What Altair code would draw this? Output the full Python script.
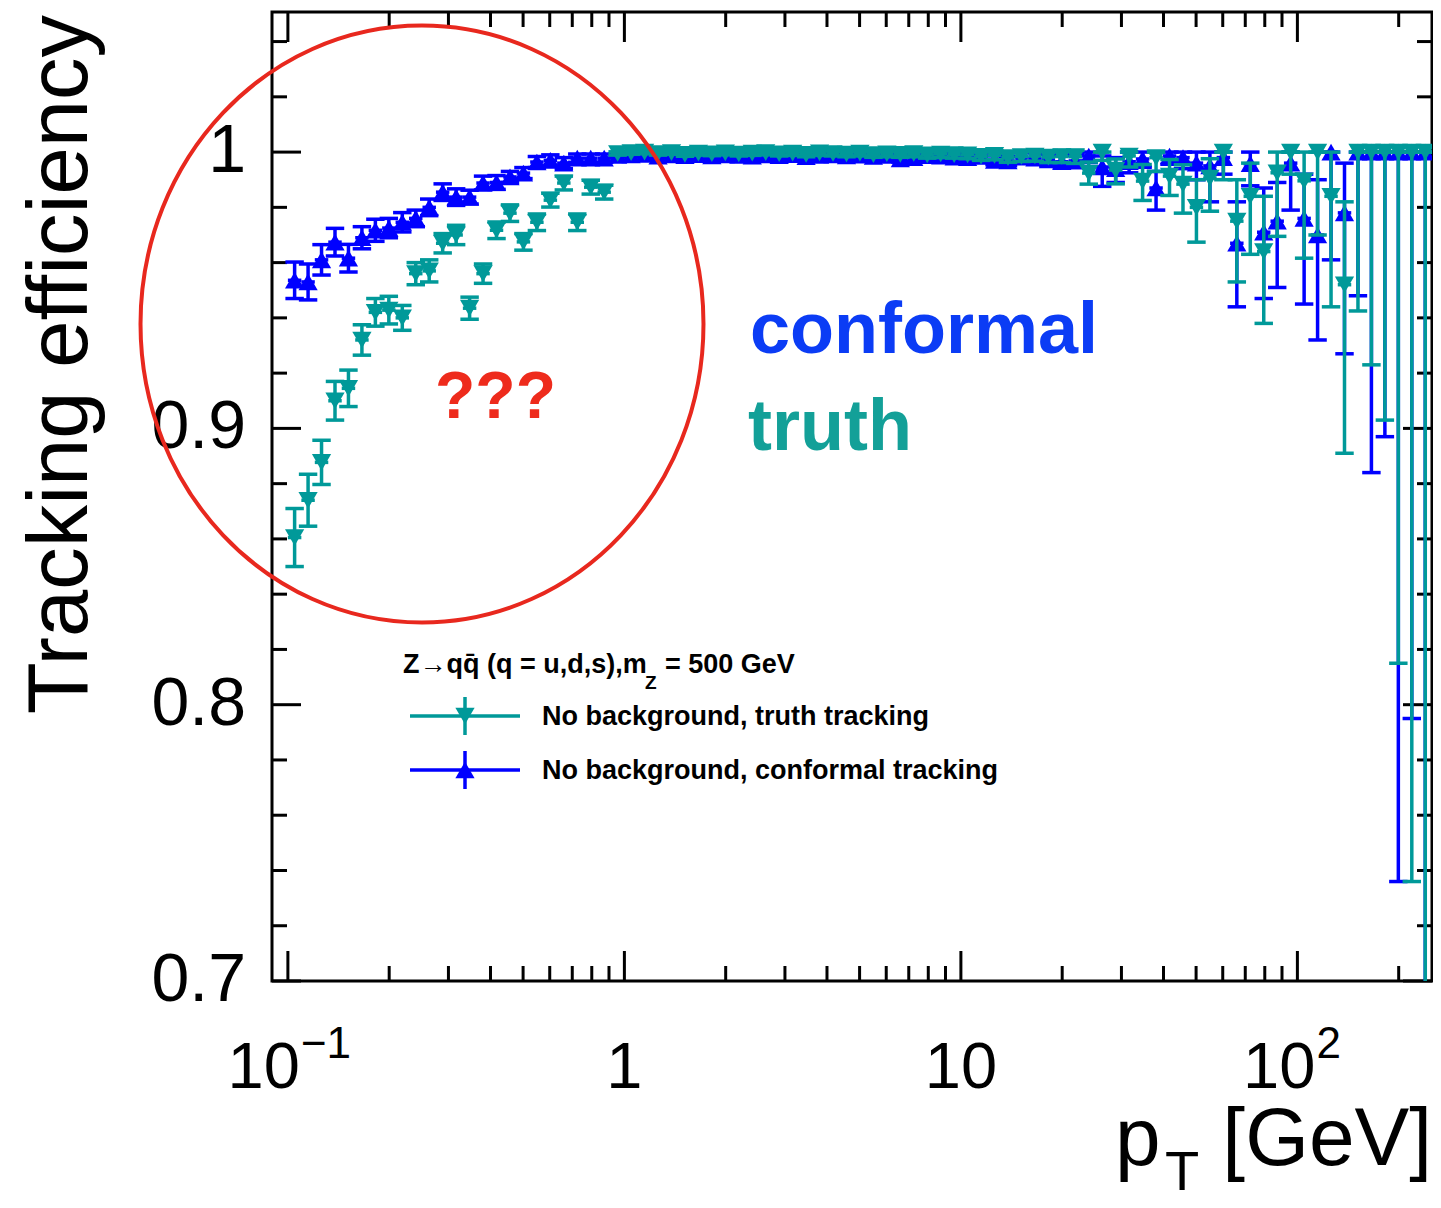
import altair as alt
import numpy as np
import pandas as pd

# ---------------- histogram binning (log bins, 25 per decade from 0.1 GeV) ----------
N_BINS = 85
BINS_PER_DECADE = 25
PT_MIN = 0.1

# ---------------- efficiencies ----------------
truth_eff = [
    0.8605, 0.874, 0.8877, 0.910, 0.9145, 0.932, 0.942, 0.9428, 0.940, 0.956, 0.957, 0.967,
    0.970, 0.9435, 0.956, 0.9717, 0.9779, 0.9675, 0.9746, 0.9826, 0.9888, 0.9746, 0.9873, 0.9855,
    0.9995, 0.9998, 1.0, 0.9995, 0.9998, 0.9992, 0.9996, 0.9994, 0.9997, 0.9993, 0.9996, 0.9998,
    0.9994, 0.9996, 0.9992, 0.9997, 0.9995, 0.9993, 0.9996, 0.9991, 0.9994, 0.9992, 0.9995, 0.9990,
    0.9993, 0.9991,
    0.9990, 0.9985, 0.9988, 0.9980, 0.9984, 0.9986, 0.9982, 0.9984, 0.9983,
    0.9924, 1.0, 0.9935, 0.9986, 0.9895, 0.998, 0.9913, 0.9884, 0.980, 0.9906, 1.0, 0.975,
    0.984, 0.964, 0.9925, 1.0, 0.9896, 1.0, 0.984, 0.952, 1.0, 1.0, 1.0, 1.0, 1.0, 1.0,
]
truth_err_lo = [
    0.0105, 0.0094, 0.008, 0.007, 0.0066, 0.0055, 0.005, 0.005, 0.0045, 0.004, 0.004, 0.0035,
    0.0035, 0.004, 0.0035, 0.003, 0.003, 0.003, 0.003, 0.0025, 0.0025, 0.003, 0.0025, 0.0025,
    0.0006, 0.0006, 0.0006, 0.0006, 0.0006, 0.0007, 0.0007, 0.0007, 0.0007, 0.0007, 0.0008, 0.0008,
    0.0008, 0.0008, 0.0009, 0.0009, 0.0009, 0.001, 0.001, 0.001, 0.0011, 0.0011, 0.0012, 0.0012,
    0.0013, 0.0013, 0.0014, 0.0015, 0.0016, 0.0017, 0.0018, 0.0019, 0.002, 0.0022, 0.0024,
    0.004, 0.003, 0.005, 0.004, 0.007, 0.005, 0.007, 0.0105, 0.0126, 0.012, 0.010, 0.022,
    0.021, 0.026, 0.023, 0.008, 0.028, 0.030, 0.040, 0.061, 0.0575, 0.077, 0.097, 0.185, 0.264, 0.45,
]
truth_err_hi_tail = [
    0.004, 0.0, 0.004, 0.0014, 0.006, 0.002, 0.006, 0.007, 0.010, 0.007, 0.0, 0.015,
    0.012, 0.020, 0.0075, 0.0, 0.0104, 0.0, 0.016, 0.030, 0.0, 0.0, 0.0, 0.0, 0.0, 0.0,
]
conf_eff = [
    0.9536, 0.953, 0.961, 0.9674, 0.9616, 0.969, 0.9717, 0.9725, 0.9746, 0.976, 0.980, 0.9855,
    0.9837, 0.9837, 0.9888, 0.989, 0.991, 0.9924, 0.9964, 0.997, 0.996, 0.9978, 0.9978, 0.9978,
    0.9988, 0.9990, 0.9992, 0.9985, 0.9990, 0.9987, 0.9991, 0.9986, 0.9990, 0.9988, 0.9985, 0.9990,
    0.9987, 0.9991, 0.9983, 0.9988, 0.9990, 0.9986, 0.9989, 0.9984, 0.9988, 0.9975, 0.9980, 0.9987,
    0.9985, 0.9982,
    0.9980, 0.9984, 0.9970, 0.9968, 0.9982, 0.9978, 0.9972, 0.9965, 0.9968,
    0.9986, 0.9946, 0.9940, 0.9965, 0.9975, 0.987, 0.9986, 0.998, 0.996, 0.995, 0.998, 0.967,
    0.9958, 0.971, 0.975, 0.996, 0.976, 0.970, 1.0, 0.978, 1.0, 1.0, 1.0, 1.0, 1.0, 1.0,
]
conf_err_lo = [
    0.0066, 0.0065, 0.0055, 0.005, 0.005, 0.004, 0.004, 0.0035, 0.0035, 0.003, 0.003, 0.003,
    0.003, 0.0025, 0.0025, 0.0025, 0.002, 0.002, 0.002, 0.002, 0.002, 0.0015, 0.0015, 0.0015,
    0.0006, 0.0006, 0.0006, 0.0006, 0.0006, 0.0007, 0.0007, 0.0007, 0.0007, 0.0007, 0.0008, 0.0008,
    0.0008, 0.0008, 0.0009, 0.0009, 0.0009, 0.001, 0.001, 0.001, 0.0011, 0.0011, 0.0012, 0.0012,
    0.0013, 0.0013, 0.0014, 0.0015, 0.0016, 0.0017, 0.0018, 0.0019, 0.002, 0.0022, 0.0024,
    0.002, 0.007, 0.005, 0.004, 0.003, 0.008, 0.003, 0.004, 0.006, 0.013, 0.006, 0.023,
    0.008, 0.024, 0.024, 0.017, 0.031, 0.038, 0.039, 0.051, 0.052, 0.116, 0.103, 0.264, 0.205, 0.45,
]
conf_err_hi_tail = [
    0.0014, 0.004, 0.004, 0.0035, 0.0025, 0.006, 0.0014, 0.002, 0.004, 0.005, 0.002, 0.015,
    0.0042, 0.016, 0.014, 0.004, 0.016, 0.020, 0.0, 0.018, 0.0, 0.0, 0.0, 0.0, 0.0, 0.0,
]
truth_err_hi = truth_err_lo[:59] + truth_err_hi_tail
conf_err_hi = conf_err_lo[:59] + conf_err_hi_tail

# axis ticks and labels
x_major = [0.1, 1, 10, 100]
x_minor = [0.2, 0.3, 0.4, 0.5, 0.6, 0.7, 0.8, 0.9, 2, 3, 4, 5, 6, 7, 8, 9,
           20, 30, 40, 50, 60, 70, 80, 90, 200]
x_label_base = ["10", "1", "10", "10"]
x_label_exp = ["\u22121", "", "", "2"]
y_major = [0.7, 0.8, 0.9, 1.0]
y_label_text = ["0.7", "0.8", "0.9", "1"]
y_minor = [0.72, 0.74, 0.76, 0.78, 0.82, 0.84, 0.86, 0.88, 0.92, 0.94, 0.96, 0.98, 1.02, 1.04]

TEAL = "#009999"
BLUE = "#0000ff"
FONT = "Liberation Sans"
W, H = 1160, 969

edges = PT_MIN * 10 ** (np.arange(N_BINS + 1) / BINS_PER_DECADE)
lo_edge, hi_edge = edges[:-1], edges[1:]
centers = np.sqrt(lo_edge * hi_edge)


def frame(eff, lo, hi):
    eff = np.array(eff)
    return pd.DataFrame({
        "pt": centers, "x1": lo_edge, "x2": hi_edge, "eff": eff,
        "ylo": eff - np.array(lo), "yhi": eff + np.array(hi),
    })


truth_df = frame(truth_eff, truth_err_lo, truth_err_hi)
conf_df = frame(conf_eff, conf_err_lo, conf_err_hi)

xs = alt.Scale(type="log", domain=[0.0897, 251.2], nice=False)
ys = alt.Scale(domain=[0.7, 1.0507], nice=False, zero=False)

CAP = "M -1 0 L 1 0"
MSIZE = 370
CSIZE = 340
LW = 3.5


def X(f):
    return alt.X(f, scale=xs, axis=None)


def Y(f):
    return alt.Y(f, scale=ys, axis=None)


def series_layers(df, color, shape):
    base = alt.Chart(df)
    xerr = base.mark_rule(color=color, strokeWidth=LW, clip=True).encode(
        x=X("x1:Q"), x2="x2:Q", y=Y("eff:Q"))
    yerr = base.mark_rule(color=color, strokeWidth=LW, clip=True).encode(
        x=X("pt:Q"), y=Y("ylo:Q"), y2="yhi:Q")
    cap_lo = base.mark_point(shape=CAP, size=CSIZE, filled=False, color=color, strokeWidth=LW,
                             opacity=1, clip=True).encode(x=X("pt:Q"), y=Y("ylo:Q"))
    cap_hi = base.mark_point(shape=CAP, size=CSIZE, filled=False, color=color, strokeWidth=LW,
                             opacity=1, clip=True).encode(x=X("pt:Q"), y=Y("yhi:Q"))
    marker = base.mark_point(shape=shape, size=MSIZE, filled=True, color=color, opacity=1,
                             clip=True).encode(x=X("pt:Q"), y=Y("eff:Q"))
    return [xerr, yerr, cap_lo, cap_hi, marker]


# ---------------- inner ticks on all four sides ----------------
ymaj_df = pd.DataFrame({"v": y_major})
ymin_df = pd.DataFrame({"v": y_minor})
xmaj_df = pd.DataFrame({"v": x_major})
xmin_df = pd.DataFrame({"v": x_minor})


def rule(df, **enc):
    return alt.Chart(df).mark_rule(color="black", strokeWidth=3).encode(**enc)


tick_layers = [
    rule(ymaj_df, y=Y("v:Q"), x=alt.value(0), x2=alt.value(29)),
    rule(ymin_df, y=Y("v:Q"), x=alt.value(0), x2=alt.value(15)),
    rule(ymaj_df, y=Y("v:Q"), x=alt.value(W - 29), x2=alt.value(W)),
    rule(ymin_df, y=Y("v:Q"), x=alt.value(W - 15), x2=alt.value(W)),
    rule(xmaj_df, x=X("v:Q"), y=alt.value(H - 30), y2=alt.value(H)),
    rule(xmin_df, x=X("v:Q"), y=alt.value(H - 15), y2=alt.value(H)),
    rule(xmaj_df, x=X("v:Q"), y=alt.value(0), y2=alt.value(30)),
    rule(xmin_df, x=X("v:Q"), y=alt.value(0), y2=alt.value(15)),
]

# ---------------- tick labels as text ----------------
label_layers = [
    alt.Chart(pd.DataFrame({"v": y_major, "t": y_label_text})).mark_text(
        font=FONT, fontSize=68, align="right", baseline="middle", color="black").encode(
        y=Y("v:Q"), x=alt.value(-26), text="t:N"),
]
x_lbl_df = pd.DataFrame({"v": x_major, "b": x_label_base, "e": x_label_exp})
LBL_Y = H + 107
for i, v in enumerate(x_major):
    row = x_lbl_df.iloc[[i]]
    if x_label_exp[i]:
        off = 12 if v < 1 else 18
        label_layers.append(alt.Chart(row).mark_text(
            font=FONT, fontSize=65, align="right", baseline="alphabetic", color="black",
            dx=off).encode(x=X("v:Q"), y=alt.value(LBL_Y), text="b:N"))
        label_layers.append(alt.Chart(row).mark_text(
            font=FONT, fontSize=44, align="left", baseline="alphabetic", color="black",
            dx=off + 1).encode(x=X("v:Q"), y=alt.value(LBL_Y - 30), text="e:N"))
    else:
        label_layers.append(alt.Chart(row).mark_text(
            font=FONT, fontSize=65, align="center", baseline="alphabetic", color="black").encode(
            x=X("v:Q"), y=alt.value(LBL_Y), text="b:N"))


def text(label, x, y, size, color="black", weight="normal", align="left",
         baseline="alphabetic", angle=0):
    kw = dict(font=FONT, fontSize=size, color=color, fontWeight=weight, align=align,
              baseline=baseline)
    if angle:
        kw["angle"] = angle
    return alt.Chart(pd.DataFrame({"t": [label]})).mark_text(**kw).encode(
        text="t:N", x=alt.value(x), y=alt.value(y))


one = pd.DataFrame({"a": [0]})

legend_layers = [
    text("Z\u2192qq\u0304 (q = u,d,s),m", 131, 653, 27, weight="bold", baseline="middle"),
    text("Z", 373, 671, 19, weight="bold", baseline="middle"),
    text("= 500 GeV", 393, 653, 27, weight="bold", baseline="middle"),
    # truth entry
    alt.Chart(one).mark_rule(color=TEAL, strokeWidth=LW).encode(
        x=alt.value(138), x2=alt.value(248), y=alt.value(704)),
    alt.Chart(one).mark_rule(color=TEAL, strokeWidth=LW).encode(
        x=alt.value(193), y=alt.value(685), y2=alt.value(723)),
    alt.Chart(one).mark_point(shape="triangle-down", size=MSIZE, filled=True, color=TEAL,
                              opacity=1).encode(x=alt.value(193), y=alt.value(704)),
    text("No background, truth tracking", 270, 705, 27, weight="bold", baseline="middle"),
    # conformal entry
    alt.Chart(one).mark_rule(color=BLUE, strokeWidth=LW).encode(
        x=alt.value(138), x2=alt.value(248), y=alt.value(758)),
    alt.Chart(one).mark_rule(color=BLUE, strokeWidth=LW).encode(
        x=alt.value(193), y=alt.value(739), y2=alt.value(777)),
    alt.Chart(one).mark_point(shape="triangle-up", size=MSIZE, filled=True, color=BLUE,
                              opacity=1).encode(x=alt.value(193), y=alt.value(758)),
    text("No background, conformal tracking", 270, 759, 27, weight="bold", baseline="middle"),
]

annot_layers = [
    text("conformal", 478, 341, 72, color="#0b3cf5", weight="bold"),
    text("truth", 476, 438, 72, color="#13a098", weight="bold"),
    text("???", 163, 406, 66, color="#ee2b1c", weight="bold"),
    # axis titles
    text("Tracking efficiency", -185, 3, 85, align="right", angle=270),
    text("p", 843, 1153, 82),
    text("T", 893, 1178, 56),
    text("[GeV]", 1160, 1153, 82, align="right"),
    # red ellipse
    alt.Chart(one).mark_point(
        shape="M -0.943 0 A 0.943 1 0 1 1 0.943 0 A 0.943 1 0 1 1 -0.943 0 Z",
        size=356409, filled=False, color="#e8281e", strokeWidth=4, opacity=1,
    ).encode(x=alt.value(150), y=alt.value(312)),
]

layers = (tick_layers + label_layers + series_layers(conf_df, BLUE, "triangle-up")
          + series_layers(truth_df, TEAL, "triangle-down") + legend_layers + annot_layers)

chart = alt.layer(*layers).properties(
    width=W, height=H,
    autosize=alt.AutoSizeParams(type="none"),
    padding={"left": 264, "top": 4, "right": 1, "bottom": 219},
).configure_view(stroke="black", strokeWidth=3)

chart.save("out.html", embed_options={"renderer": "svg", "actions": False})
